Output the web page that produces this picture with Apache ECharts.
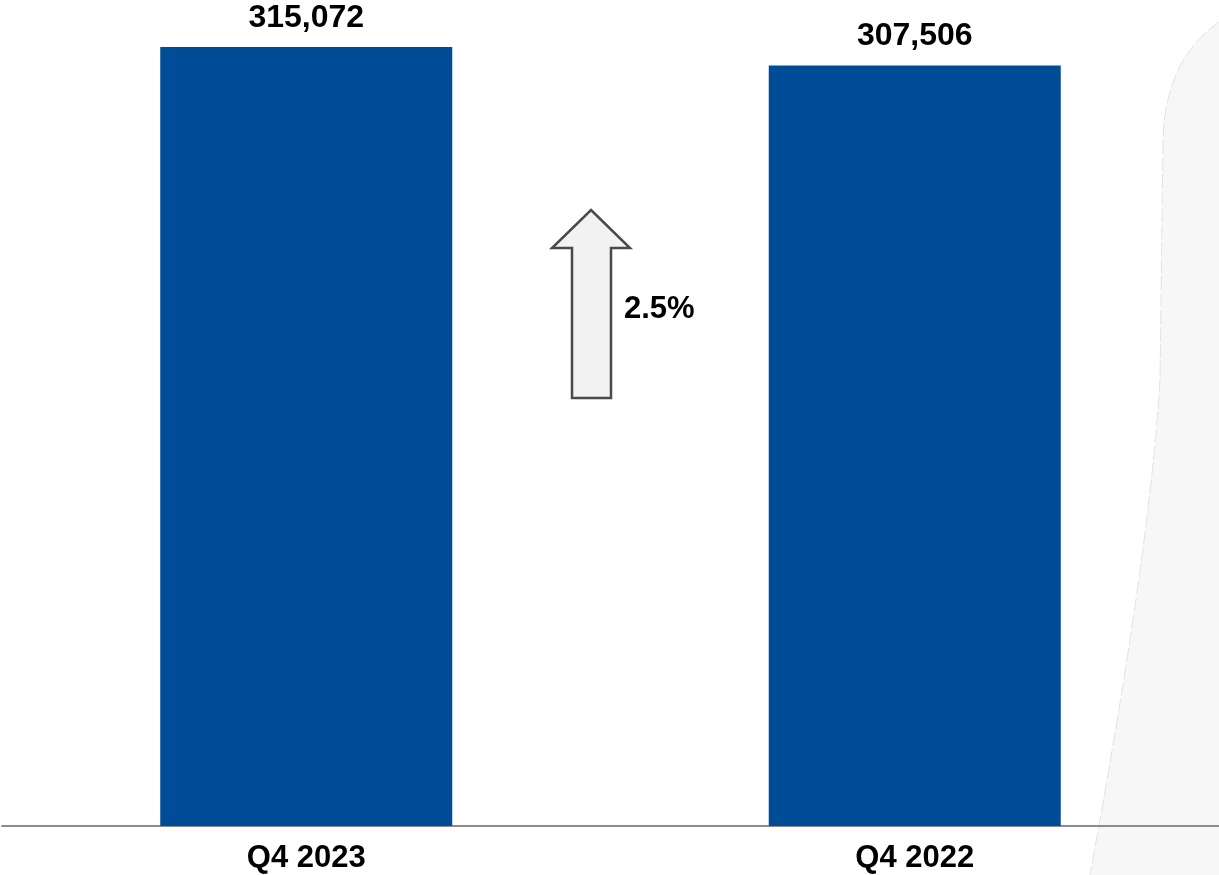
<!DOCTYPE html>
<html>
<head>
<meta charset="utf-8">
<script src="https://cdn.jsdelivr.net/npm/echarts@6/dist/echarts.min.js"></script>
<style>
  html, body { margin: 0; padding: 0; background: #fff; }
  #chart { width: 1219px; height: 875px; }
</style>
</head>
<body>
<div id="chart"></div>
<script>
const categories = ["Q4 2023", "Q4 2022"];
const values = [315072, 307506];
const changeLabel = "2.5%";

const chart = echarts.init(document.getElementById("chart"));

const font = "'Liberation Sans', Arial, sans-serif";

// outline of the light grey panel on the right (quadratic curves sampled)
function quad(p0, c, p1, n) {
  const pts = [];
  for (let i = 0; i <= n; i++) {
    const t = i / n;
    const a = (1 - t) * (1 - t), b = 2 * t * (1 - t), d = t * t;
    pts.push([a * p0[0] + b * c[0] + d * p1[0], a * p0[1] + b * c[1] + d * p1[1]]);
  }
  return pts;
}
const panelEdge = quad([1219, 22], [1165, 60], [1163, 140], 20)
  .concat(quad([1160, 380], [1150, 550], [1090, 875], 30));
const panelPoints = panelEdge.concat([[1219, 875]]);

chart.setOption({
  animation: false,
  grid: { left: 2, right: 0, top: 10, bottom: 49 },
  xAxis: {
    type: "category",
    data: categories,
    axisLine: { lineStyle: { color: "#8c8c8c", width: 2 } },
    axisTick: { show: false },
    axisLabel: {
      margin: 17,
      color: "#000",
      fontSize: 31,
      fontWeight: "bold",
      fontFamily: font,
    },
  },
  yAxis: {
    type: "value",
    min: 0,
    max: 330000,
    show: false,
    splitLine: { show: false },
  },
  graphic: [
    {
      type: "polygon",
      z: -10,
      shape: { points: panelPoints },
      style: { fill: "#f7f7f7" },
    },
    {
      type: "polyline",
      z: -9,
      shape: { points: panelEdge },
      style: { fill: null, stroke: "#e2e2e2", lineWidth: 1, lineDash: [14, 3] },
    },
    {
      // up arrow
      type: "polygon",
      z: 10,
      shape: {
        points: [
          [591, 210],
          [630, 248],
          [611, 248],
          [611, 398],
          [572, 398],
          [572, 248],
          [552, 248],
        ],
      },
      style: { fill: "#f2f2f2", stroke: "#4a4a4a", lineWidth: 2.5 },
    },
    {
      type: "text",
      z: 10,
      left: 624,
      top: 294,
      style: {
        text: changeLabel,
        fill: "#000",
        font: "bold 31px " + font,
      },
    },
  ],
  series: [
    {
      type: "bar",
      data: values,
      barWidth: 292,
      itemStyle: { color: "#004C97" },
      label: {
        show: true,
        position: "top",
        distance: 13,
        color: "#000",
        fontSize: 32,
        fontWeight: "bold",
        fontFamily: font,
        formatter: (p) => p.value.toLocaleString("en-US"),
      },
    },
  ],
});
</script>
</body>
</html>
